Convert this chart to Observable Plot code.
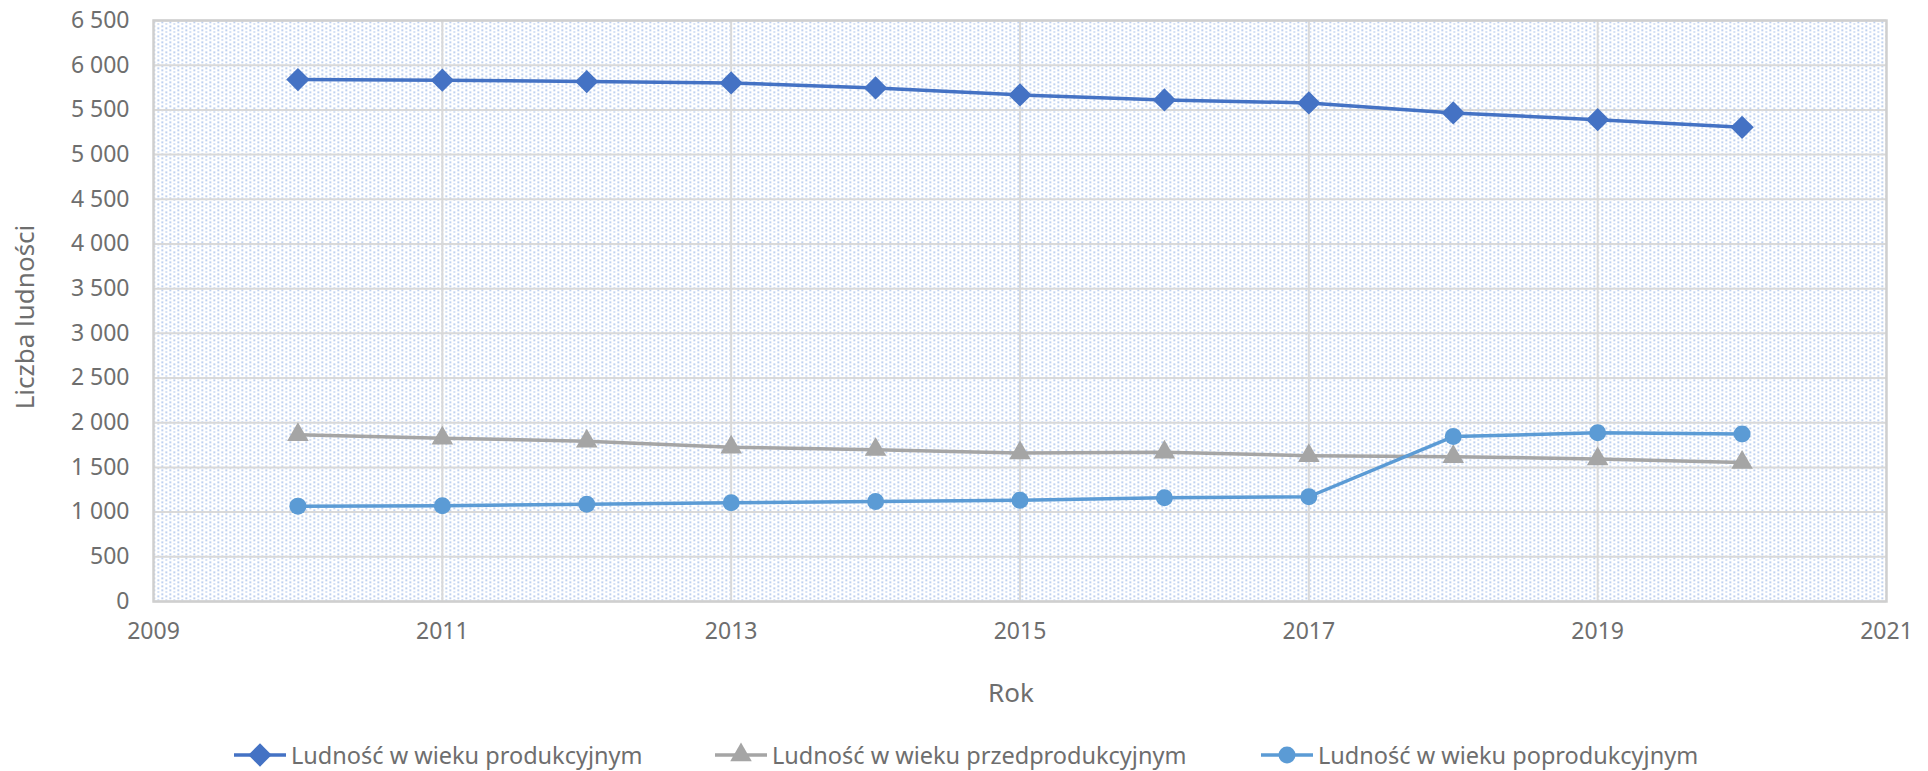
<!DOCTYPE html>
<html>
<head>
<meta charset="utf-8">
<script src="https://cdn.jsdelivr.net/npm/d3@7"></script>
<script src="https://cdn.jsdelivr.net/npm/@observablehq/plot@0.6"></script>
<style>
  html, body { margin: 0; padding: 0; background: #fff; }
  #wrap { position: relative; width: 1928px; height: 771px; overflow: hidden; font-family: "Noto Sans", sans-serif; }
  #legend { position: absolute; left: 0; top: 740px; width: 1928px; height: 30px; }
  .item { position: absolute; top: 0; height: 30px; display: flex; align-items: center; color: #6e6e6e; font-size: 23.5px; white-space: nowrap; }
  .item svg { margin-right: 5px; }
</style>
</head>
<body>
<div id="wrap">
  <div id="chart"></div>
  <div id="legend"></div>
</div>
<script>
const years = [2010, 2011, 2012, 2013, 2014, 2015, 2016, 2017, 2018, 2019, 2020];
const produkcyjny = [5839, 5832, 5817, 5802, 5746, 5667, 5611, 5578, 5466, 5391, 5305];
const przedprodukcyjny = [1865, 1827, 1793, 1726, 1699, 1662, 1670, 1631, 1620, 1594, 1556];
const poprodukcyjny = [1067, 1070, 1089, 1105, 1120, 1134, 1161, 1172, 1845, 1887, 1873];
const seriesNames = ["Ludność w wieku produkcyjnym", "Ludność w wieku przedprodukcyjnym", "Ludność w wieku poprodukcyjnym"];
const seriesColors = ["#4472C4", "#A5A5A5", "#5B9BD5"];
const seriesSymbols = ["diamond2", "triangle", "circle"];
const seriesR = [10.5, 8, 8.5];
const xTicks = [2009, 2011, 2013, 2015, 2017, 2019, 2021];
const yTicks = [0, 500, 1000, 1500, 2000, 2500, 3000, 3500, 4000, 4500, 5000, 5500, 6000, 6500];
const xLabel = "Rok";
const yLabel = "Liczba ludności";

const seriesValues = [produkcyjny, przedprodukcyjny, poprodukcyjny];
const data = seriesValues.flatMap((vals, s) => years.map((yr, i) => ({ year: yr, value: vals[i], series: seriesNames[s] })));

const fmt = d => d3.format(",")(d).replace(/,/g, " ");
const textColor = "#6e6e6e";

const marks = [
  Plot.frame({ fill: "url(#dots)", stroke: null }),
  Plot.gridY(yTicks, { stroke: "#d9d9d9", strokeOpacity: 1, strokeWidth: 2 }),
  Plot.gridX(xTicks.slice(1, -1), { stroke: "#d9d9d9", strokeOpacity: 1, strokeWidth: 2 }),
  Plot.frame({ stroke: "#cfcfcf", strokeWidth: 2.5 }),
  Plot.axisY(yTicks, { tickSize: 0, tickPadding: 24, tickFormat: fmt, fontSize: 23, fill: textColor, label: null }),
  Plot.axisX(xTicks, { tickSize: 0, tickPadding: 21, tickFormat: d => String(d), fontSize: 23, fill: textColor, label: null }),
  Plot.text([yLabel], { frameAnchor: "left", textAnchor: "middle", lineAnchor: "middle", dx: -128, dy: 6, rotate: -90, fontSize: 26, fill: textColor }),
  Plot.text([xLabel], { frameAnchor: "bottom", textAnchor: "middle", lineAnchor: "middle", dx: -9, dy: 92, fontSize: 26, fill: textColor })
];
seriesNames.forEach((name, s) => {
  const d = data.filter(r => r.series === name);
  marks.push(Plot.line(d, { x: "year", y: "value", stroke: seriesColors[s], strokeWidth: 3.5 }));
});
seriesNames.forEach((name, s) => {
  const d = data.filter(r => r.series === name);
  marks.push(Plot.dot(d, { x: "year", y: "value", symbol: seriesSymbols[s], r: seriesR[s], fill: seriesColors[s], stroke: null }));
});

const chart = Plot.plot({
  width: 1928,
  height: 715,
  marginLeft: 153,
  marginRight: 42,
  marginTop: 20,
  marginBottom: 114,
  style: { fontFamily: "Noto Sans, sans-serif", background: "#fff" },
  x: { domain: [2009, 2021] },
  y: { domain: [0, 6500] },
  marks
});
chart.insertAdjacentHTML("afterbegin",
  '<defs><pattern id="dots" width="8" height="8" patternUnits="userSpaceOnUse">' +
  '<rect width="8" height="8" fill="#ffffff"/>' +
  '<rect x="1" y="1" width="1.5" height="1.5" fill="#8eaee3"/>' +
  '<rect x="5" y="3" width="1.5" height="1.5" fill="#8eaee3"/>' +
  '<rect x="1" y="5" width="1.5" height="1.5" fill="#8eaee3"/>' +
  '<rect x="5" y="7" width="1.5" height="1.5" fill="#8eaee3"/>' +
  '</pattern></defs>');
document.getElementById("chart").appendChild(chart);

// legend
const legendPos = [[234, 291], [715, 775], [1261, 1320]];
const legend = document.getElementById("legend");
seriesNames.forEach((name, s) => {
  const item = document.createElement("div");
  item.className = "item";
  item.style.left = legendPos[s][0] + "px";
  const sym = d3.symbol(d3["symbol" + { diamond2: "Diamond2", triangle: "Triangle", circle: "Circle" }[seriesSymbols[s]]], Math.PI * seriesR[s] * seriesR[s])();
  item.innerHTML = `<svg width="52" height="26"><line x1="0" x2="52" y1="13" y2="13" stroke="${seriesColors[s]}" stroke-width="3.5"/><path d="${sym}" transform="translate(26,13)" fill="${seriesColors[s]}"/></svg><span>${name}</span>`;
  legend.appendChild(item);
});
</script>
</body>
</html>
